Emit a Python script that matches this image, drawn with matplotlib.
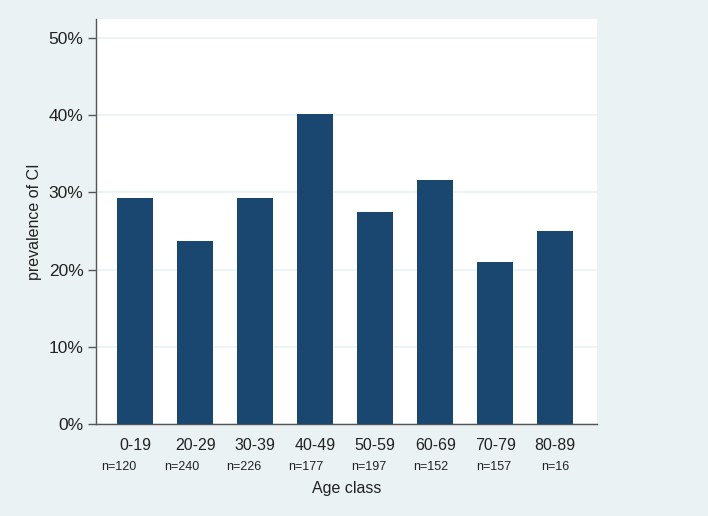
import matplotlib.pyplot as plt
import numpy as np

age_classes = ["0-19", "20-29", "30-39", "40-49", "50-59", "60-69", "70-79", "80-89"]
prevalence = [29.2, 23.75, 29.2, 40.1, 27.4, 31.6, 21.0, 25.0]
n_counts = [120, 240, 226, 177, 197, 152, 157, 16]
y_ticks = [0, 10, 20, 30, 40, 50]

bg = "#eaf2f3"
navy = "#1a476f"

plt.rcParams["font.family"] = ["Liberation Sans", "DejaVu Sans"]

fig = plt.figure(figsize=(7.08, 5.16), dpi=100, facecolor=bg)
ax = fig.add_axes([96 / 708, 1 - 424.3 / 516, (597 - 96) / 708, (424.3 - 19) / 516])
ax.set_facecolor("white")

x = np.arange(len(age_classes))
ax.bar(x, prevalence, width=0.6, color=navy, zorder=3)

ax.set_xlim(-0.655, 7.695)
ax.set_ylim(0, 52.4)
ax.set_yticks(y_ticks)
ax.set_yticklabels([f"{t}%" for t in y_ticks], fontsize=12.5, color="#222222")
ax.yaxis.grid(True, color=bg, linewidth=1.2, zorder=0)
ax.set_xticks(x)
ax.set_xticklabels(age_classes, fontsize=11.5, color="#222222")
ax.tick_params(axis="x", length=0, pad=10)
ax.tick_params(axis="y", length=6, width=1, color="#555555", pad=3)

for s in ["top", "right"]:
    ax.spines[s].set_visible(False)
for s in ["left", "bottom"]:
    ax.spines[s].set_color("#555555")
    ax.spines[s].set_linewidth(1)

ax.set_ylabel("prevalence of CI", fontsize=11.5, color="#222222", labelpad=5)

# sample size line under the categories
n_pos = np.linspace(119, 555.7, len(n_counts)) / 708
for px, n in zip(n_pos, n_counts):
    fig.text(px, 1 - 466.7 / 516, f"n={n}", fontsize=9, ha="center", va="center", color="#222222")

fig.text((96 + 597) / 2 / 708, 1 - 489 / 516, "Age class", fontsize=11.5,
         ha="center", va="center", color="#222222")

fig.savefig("out.png", dpi=100, facecolor=bg)
